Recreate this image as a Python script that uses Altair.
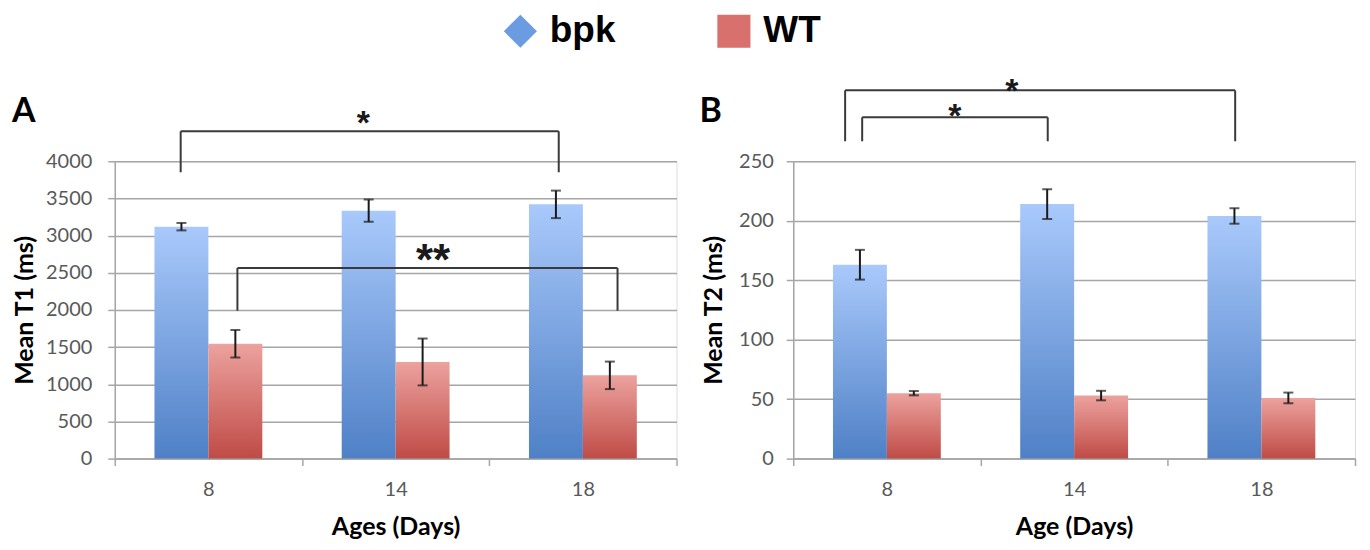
import json
import altair as alt
import pandas as pd

# ---------------- data ----------------
ages = ["8", "14", "18"]
series = ["bpk", "WT"]

t1_bpk = [3120, 3335, 3420]
t1_bpk_err = [50, 150, 185]
t1_wt = [1545, 1300, 1120]
t1_wt_err = [185, 315, 185]

t2_bpk = [163, 214, 204]
t2_bpk_err = [12.5, 12.5, 6.5]
t2_wt = [55, 53, 51]
t2_wt_err = [1.8, 4, 4.5]

# significance brackets: x in category units (0..3), y in data units
a_br_x1 = [0.352, 0.655]
a_br_x2 = [2.371, 2.685]
a_br_top = [4403, 2564]
a_br_bot = [3852, 1990]
a_br_label = ["*", "**"]
a_br_label_x = [1.327, 1.70]
a_br_label_y = [4631, 2805]

b_br_x1 = [0.277, 0.368]
b_br_x2 = [2.360, 1.359]
b_br_top = [309.6, 286.9]
b_br_bot = [266.8, 266.8]
b_br_label = ["*", "*"]
b_br_label_x = [1.167, 0.863]
b_br_label_y = [316.3, 295.3]

# ---------------- style ----------------
FONT = "Lato"
GRID = "#a6a6a6"
LABEL = "#595959"
BAR_W = 0.288
BRACKET = "#3a3a3a"

grad_bpk = alt.Gradient(
    gradient="linear",
    stops=[alt.GradientStop(color="#4f80c6", offset=0),
           alt.GradientStop(color="#a9c9fb", offset=1)],
    x1=0, x2=0, y1=1, y2=0,
)
grad_wt = alt.Gradient(
    gradient="linear",
    stops=[alt.GradientStop(color="#bf4b46", offset=0),
           alt.GradientStop(color="#eca29e", offset=1)],
    x1=0, x2=0, y1=1, y2=0,
)


def bar_table(bpk, bpk_err, wt, wt_err):
    rows = []
    for i, age in enumerate(ages):
        rows.append({"idx": i, "age": age, "series": "bpk", "value": bpk[i], "err": bpk_err[i]})
        rows.append({"idx": i, "age": age, "series": "WT", "value": wt[i], "err": wt_err[i]})
    return pd.DataFrame(rows)


def bracket_segments(x1, x2, top, bot):
    rows = []
    for a, b, t, bo in zip(x1, x2, top, bot):
        rows.append({"xa": a, "xb": b, "ya": t, "yb": t})
        rows.append({"xa": a, "xb": a, "ya": bo, "yb": t})
        rows.append({"xa": b, "xb": b, "ya": bo, "yb": t})
    return pd.DataFrame(rows)


def bracket_labels(labels, lx, ly):
    return pd.DataFrame({"label": labels, "lx": lx, "ly": ly})


label_expr = ("datum.value % 1 == 0.5 ? " + json.dumps(ages)
              + "[floor(datum.value)] : ''")


def panel(bars, segs, labs, letter, x_title, y_title, ymax, ystep,
          y_label_pad, y_title_x, letter_x, legend=False):
    xscale = alt.Scale(domain=[0, 3], nice=False, zero=False)
    yscale = alt.Scale(domain=[0, ymax], nice=False)
    xaxis = alt.Axis(
        values=[0, 0.5, 1, 1.5, 2, 2.5, 3], labelExpr=label_expr,
        tickOpacity={"condition": {"test": "datum.value % 1 == 0.5", "value": 0}, "value": 1},
        grid=False, domainColor=GRID, domainWidth=1.5, tickColor=GRID, tickWidth=1.5,
        tickSize=7, labelFont=FONT, labelFontSize=20, labelColor=LABEL, labelPadding=14,
        labelOverlap=False, titleFont=FONT, titleFontSize=25, titleFontWeight="bold",
        titleColor="black", titlePadding=15,
    )
    yaxis = alt.Axis(
        values=list(range(0, ymax + 1, ystep)), format="d", grid=True, gridColor=GRID,
        gridWidth=1.5, domainColor=GRID, domainWidth=1.5, tickColor=GRID, tickWidth=1.5,
        tickSize=7, labelFont=FONT, labelFontSize=20, labelColor=LABEL,
        labelPadding=y_label_pad, titleFont=FONT, titleFontSize=25, titleFontWeight="bold",
        titleColor="black", titleX=y_title_x,
    )

    def X(f):
        return alt.X(f, type="quantitative", scale=xscale, axis=xaxis, title=x_title)

    def Y(f):
        return alt.Y(f, type="quantitative", scale=yscale, axis=yaxis, title=y_title)

    base = alt.Chart(bars).transform_calculate(
        xl=f"datum.idx + 0.5 - (datum.series == 'bpk' ? {BAR_W} : 0)"
    ).transform_calculate(
        xr=f"datum.xl + {BAR_W}", xc=f"datum.xl + {BAR_W / 2}",
        lo="datum.value - datum.err", hi="datum.value + datum.err",
    )
    bpk_bars = base.transform_filter("datum.series == 'bpk'").mark_bar(
        color=grad_bpk, strokeWidth=0
    ).encode(x=X("xl"), x2=alt.X2("xr"), y=Y("value"), y2=alt.datum(0))
    wt_bars = base.transform_filter("datum.series == 'WT'").mark_bar(
        color=grad_wt, strokeWidth=0
    ).encode(x=X("xl"), x2=alt.X2("xr"), y=Y("value"), y2=alt.datum(0))
    err = base.mark_rule(color="#1a1a1a", strokeWidth=2).encode(
        x=X("xc"), y=Y("lo"), y2=alt.Y2("hi"))
    cap_lo = base.mark_tick(orient="horizontal", size=10, thickness=2, color="#1a1a1a").encode(
        x=X("xc"), y=Y("lo"))
    cap_hi = base.mark_tick(orient="horizontal", size=10, thickness=2, color="#1a1a1a").encode(
        x=X("xc"), y=Y("hi"))
    br = alt.Chart(segs).mark_rule(color=BRACKET, strokeWidth=2).encode(
        x=X("xa"), x2=alt.X2("xb"), y=Y("ya"), y2=alt.Y2("yb"))
    star1 = alt.Chart(labs).transform_filter("datum.label == '*'").mark_text(
        font="Liberation Sans", fontSize=34, fontWeight="bold", color="#1a1a1a",
        baseline="alphabetic", align="center", dy=20,
    ).encode(x=X("lx"), y=Y("ly"), text="label:N")
    star2 = alt.Chart(labs).transform_filter("datum.label == '**'").mark_text(
        font="Liberation Sans", fontSize=44, fontWeight="bold", color="#1a1a1a",
        baseline="alphabetic", align="center", dy=25,
    ).encode(x=X("lx"), y=Y("ly"), text="label:N")
    letter_mark = alt.Chart(pd.DataFrame({"t": [letter]})).mark_text(
        font=FONT, fontSize=34, fontWeight="bold", color="black",
        align="left", baseline="alphabetic",
    ).encode(text="t:N", x=alt.value(letter_x), y=alt.value(-39))

    layers = [bpk_bars, wt_bars, err, cap_lo, cap_hi, br, star1, star2, letter_mark]
    if legend:
        leg = alt.Legend(
            orient="none", legendX=388, legendY=-149, direction="horizontal", title=None,
            labelFont="Liberation Sans", labelFontSize=37, labelFontWeight="bold",
            labelColor="black", symbolSize=1100, symbolOpacity=1, symbolStrokeWidth=0,
            labelOffset=11, columnPadding=100,
        )
        legend_layer = alt.Chart(bars).mark_point(filled=True, opacity=0).encode(
            x=alt.value(0), y=alt.value(0),
            color=alt.Color("series:N", scale=alt.Scale(domain=series, range=["#6b9be0", "#d8716d"]), legend=leg),
            shape=alt.Shape("series:N", scale=alt.Scale(domain=series, range=["diamond", "square"]), legend=leg),
        )
        layers.append(legend_layer)
    return alt.layer(*layers).properties(width=563, height=298)


pA = panel(bar_table(t1_bpk, t1_bpk_err, t1_wt, t1_wt_err),
           bracket_segments(a_br_x1, a_br_x2, a_br_top, a_br_bot),
           bracket_labels(a_br_label, a_br_label_x, a_br_label_y),
           "A", "Ages (Days)", "Mean T1 (ms)", 4000, 500, 16, -77, -103, legend=True)
pB = panel(bar_table(t2_bpk, t2_bpk_err, t2_wt, t2_wt_err),
           bracket_segments(b_br_x1, b_br_x2, b_br_top, b_br_bot),
           bracket_labels(b_br_label, b_br_label_x, b_br_label_y),
           "B", "Age (Days)", "Mean T2 (ms)", 250, 50, 13, -67, -94)

chart = alt.hconcat(pA, pB, spacing=117, bounds="flush").resolve_scale(
    color="independent", shape="independent"
).resolve_legend(
    color="independent", shape="independent"
).properties(
    padding={"left": 3, "top": 3, "right": 5, "bottom": 3}
).configure_view(stroke=None).configure(font=FONT)

chart.save("out.html", embed_options={"renderer": "svg", "actions": False})
